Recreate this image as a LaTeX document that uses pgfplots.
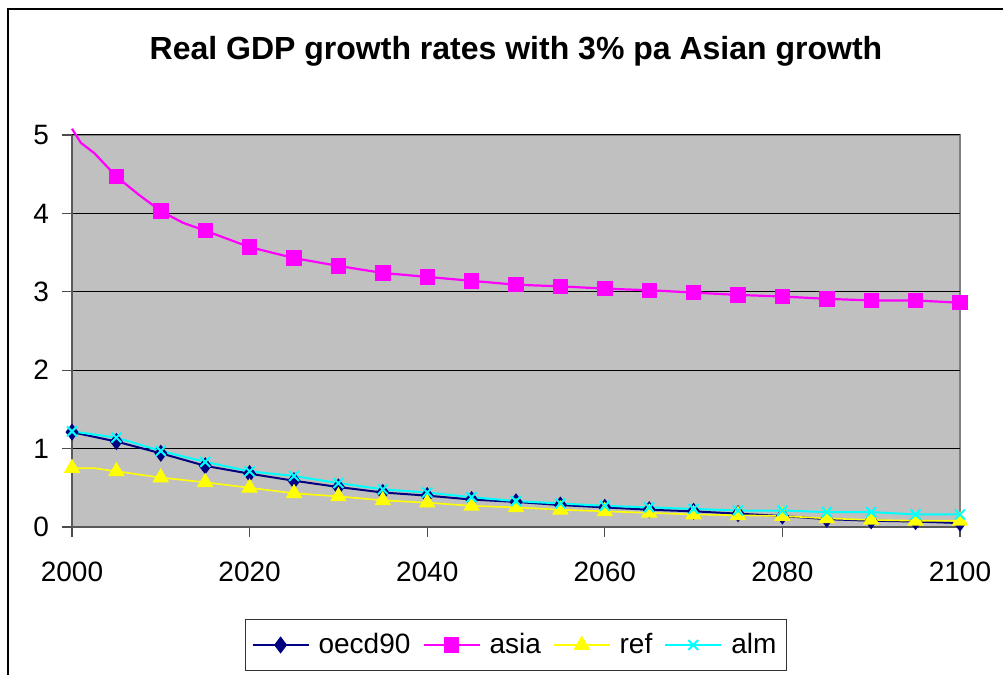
\documentclass[border=0pt]{standalone}
\usepackage{fontspec}
\setmainfont{Liberation Sans}
\usepackage{pgfplots}
\pgfplotsset{compat=1.18}

\definecolor{plotbg}{HTML}{C0C0C0}
\definecolor{oecdcol}{HTML}{000080}
\definecolor{asiacol}{HTML}{FF00FF}
\definecolor{refcol}{HTML}{FFFF00}
\definecolor{almcol}{HTML}{00FFFF}

\begin{document}
\begin{tikzpicture}
% page frame: 1003x675 px at 0.5pt per px
\path[use as bounding box] (0,0) rectangle (501.5pt,337.5pt);
\draw[black, line width=0.8pt] (4pt,0) -- (4pt,333pt) -- (501.5pt,333pt);
\begin{axis}[
    at={(36pt,74pt)}, anchor=south west,
    scale only axis,
    width=444pt, height=196pt,
    xmin=2000, xmax=2100,
    ymin=0, ymax=5,
    xtick={2000,2020,...,2100},
    ytick={0,1,...,5},
    /pgf/number format/assume math mode=true,
    /pgf/number format/1000 sep={},
    ticklabel style={font=\fontsize{14}{16}\selectfont},
    xticklabel style={yshift=-9pt},
    yticklabel style={xshift=-3pt},
    axis background/.style={fill=plotbg, draw=black!50, line width=0.8pt},
    axis lines*=left,
    axis line style={-, draw=black!65, line width=1pt},
    tick align=outside,
    major tick length=5pt,
    tick style={black!70, line width=0.6pt},
    ymajorgrids,
    major grid style={black, line width=0.5pt},
    clip=false,
    title={Real GDP growth rates with 3\% pa Asian growth},
    title style={font=\bfseries\fontsize{16}{18}\selectfont, anchor=center, at={(0.5,1)}, yshift=36pt},
    legend columns=4,
    legend style={at={(0.5,0)}, anchor=center, yshift=-59pt,
        draw=black!80, fill=white, line width=0.6pt,
        font=\fontsize{14}{16}\selectfont,
        inner xsep=3pt, inner ysep=5pt,
        /tikz/every odd column/.append style={column sep=2.5pt},
        /tikz/every even column/.append style={column sep=4pt}},
    legend image code/.code={
        \draw[mark indices={2}] plot coordinates {(0pt,0pt) (14pt,0pt) (28pt,0pt)};
    },
]
\addplot[oecdcol, line width=1pt, mark=diamond*, mark size=3.5pt, mark options={solid}] coordinates {
(2000,1.21) (2005,1.09) (2010,0.94) (2015,0.78) (2020,0.68) (2025,0.59)
(2030,0.51) (2035,0.44) (2040,0.40) (2045,0.35) (2050,0.32) (2055,0.28)
(2060,0.25) (2065,0.22) (2070,0.20) (2075,0.17) (2080,0.14) (2085,0.10)
(2090,0.08) (2095,0.07) (2100,0.05)
};
\addlegendentry{oecd90}
\addplot[asiacol, line width=1.1pt, mark=square*, mark size=3.3pt, mark options={solid},
    mark indices={4,6,8,9,10,11,12,13,14,15,16,17,18,19,20,21,22,23,24,25}] coordinates {
(2000,5.08) (2001,4.90) (2002.5,4.77) (2005,4.47) (2007.5,4.24) (2010,4.03)
(2012.5,3.88) (2015,3.78) (2020,3.57) (2025,3.43) (2030,3.33) (2035,3.24)
(2040,3.19) (2045,3.14) (2050,3.09) (2055,3.07) (2060,3.04) (2065,3.02)
(2070,2.99) (2075,2.96) (2080,2.94) (2085,2.91) (2090,2.89) (2095,2.89)
(2100,2.86)
};
\addlegendentry{asia}
\addplot[refcol, line width=0.8pt, mark=triangle*, mark size=4pt, mark options={solid},
    mark indices={1,3,4,5,6,7,8,9,10,11,12,13,14,15,16,17,18,19,20,21,22}] coordinates {
(2000,0.75) (2002.5,0.75) (2005,0.71) (2010,0.63) (2015,0.57) (2020,0.50)
(2025,0.43) (2030,0.39) (2035,0.34) (2040,0.31) (2045,0.27) (2050,0.25)
(2055,0.22) (2060,0.20) (2065,0.18) (2070,0.16) (2075,0.15) (2080,0.14)
(2085,0.11) (2090,0.09) (2095,0.08) (2100,0.08)
};
\addlegendentry{ref}
\addplot[almcol, line width=1pt, mark=x, mark size=3.5pt, mark options={solid, line width=1pt}] coordinates {
(2000,1.22) (2005,1.14) (2010,0.97) (2015,0.83) (2020,0.71) (2025,0.65)
(2030,0.56) (2035,0.48) (2040,0.44) (2045,0.38) (2050,0.33) (2055,0.30)
(2060,0.27) (2065,0.25) (2070,0.23) (2075,0.21) (2080,0.21) (2085,0.19)
(2090,0.19) (2095,0.16) (2100,0.16)
};
\addlegendentry{alm}
\end{axis}
\end{tikzpicture}
\end{document}
